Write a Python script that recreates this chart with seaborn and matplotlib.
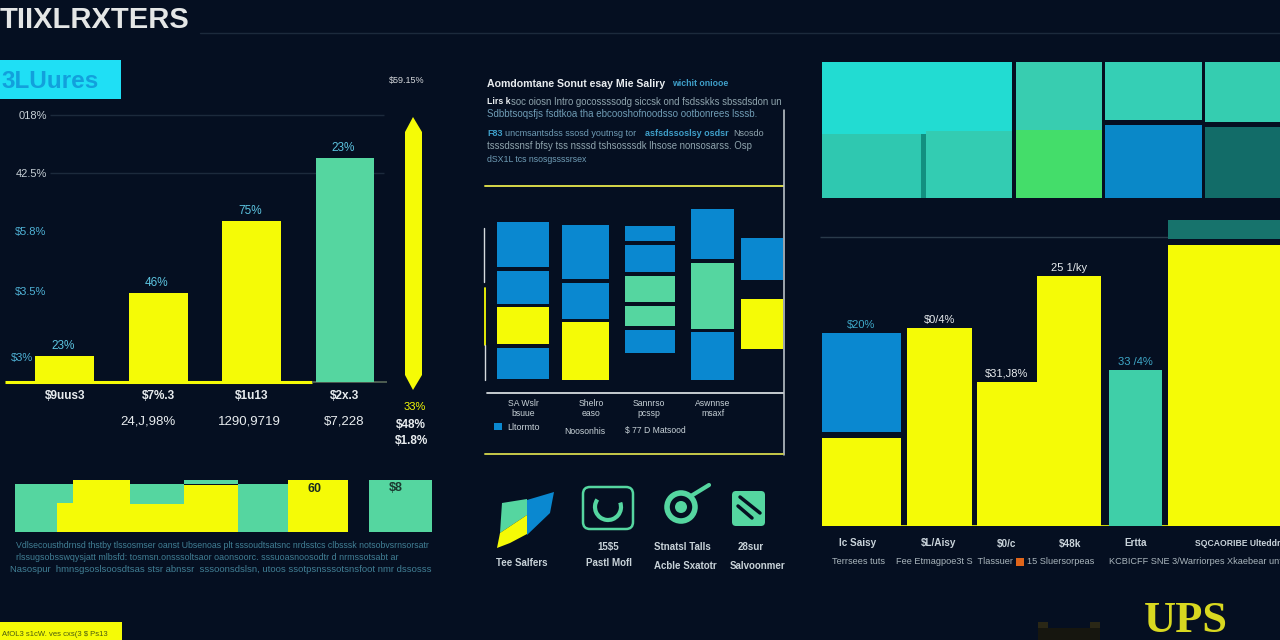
import matplotlib
matplotlib.use("Agg")
import matplotlib.pyplot as plt
import seaborn as sns
from matplotlib.patches import Arc, Circle, FancyBboxPatch, Polygon, Rectangle
from matplotlib.transforms import ScaledTranslation

BG = "#050f21"
YELLOW = "#f5fb06"
GREEN = "#55d6a0"
TEAL = "#3fcfa8"
BLUE = "#0a88d0"
WHITE = "#e8ecef"
FAINT = "#1c2a3c"
W, H = 1280, 640

# left bar chart
left_cats = ["$9uus3", "$7%.3", "$1u13", "$2x.3"]
left_vals = [26, 89, 161, 224]
left_groups = ["a", "a", "a", "b"]
left_labels = ["23%", "46%", "75%", "23%"]
left_ticks = [25, 91, 151, 209, 267]
left_ticklabels = ["$3%", "$3.5%", "$5.8%", "42.5%", "018%"]

# right bar chart
right_pos = [861.5, 939.5, 1007, 1069, 1135.5, 1224]
right_width = [79, 65, 60, 64, 53, 112]
right_vals = [88, 198, 144, 250, 156, 281]
right_colors = [YELLOW, YELLOW, YELLOW, YELLOW, TEAL, YELLOW]
right_labels = ["$20%", "$0/4%", "$31,J8%", "25 1/ky", "33 /4%", ""]
right_label_colors = ["#3fa9c9", WHITE, WHITE, WHITE, "#3fa9c9", WHITE]
right_cats = ["Ic Saisy", "$L/Aisy", "$0/c", "$48k", "Ertta", "SQCAORIBE Ulteddr"]
right_tick_pos = [858, 939, 1007, 1070, 1136, 1238]

# treemap: left, right, top, bottom, colour
tree_left = [822, 822, 926, 921, 1016, 1016, 1105, 1105, 1205, 1205]
tree_right = [1012, 921, 1012, 926, 1102, 1102, 1202, 1202, 1280, 1280]
tree_top = [62, 134, 131, 134, 62, 130, 62, 125, 62, 127]
tree_bottom = [134, 198, 198, 198, 130, 198, 120, 198, 122, 198]
tree_colors = ["#22dcd2", "#2fc8b0", "#33ccb2", "#129080", "#38cdb0", "#44dd6a", "#35cfb5", "#0a88c8", "#35cdb0", "#126c68"]

# middle block chart, one list per column
mid_left = [497, 562, 625, 691, 741]
mid_right = [549, 609, 675, 734, 783]
mid_tops = [[222, 271, 307, 348], [225, 283, 322], [226, 245, 276, 306, 330], [209, 263, 332], [238, 299]]
mid_bottoms = [[267, 304, 344, 379], [279, 319, 380], [241, 272, 302, 326, 353], [259, 329, 380], [280, 349]]
mid_colors = [[BLUE, BLUE, YELLOW, BLUE], [BLUE, BLUE, YELLOW], [BLUE, BLUE, GREEN, GREEN, BLUE],
              [BLUE, GREEN, BLUE], [BLUE, YELLOW]]

# strip under the left chart
strip_left = [15, 57, 57, 73, 130, 130, 184, 184, 238, 288, 369]
strip_right = [57, 73, 73, 130, 184, 184, 238, 238, 288, 348, 432]
strip_top = [484, 484, 503, 480, 484, 504, 480, 485, 484, 480, 480]
strip_colors = [GREEN, GREEN, YELLOW, YELLOW, GREEN, YELLOW, GREEN, YELLOW, GREEN, YELLOW, GREEN]
strip_bottom = [532, 503, 532, 532, 504, 532, 484, 532, 532, 532, 532]

sns.set_theme(style="dark", rc={"axes.facecolor": BG, "figure.facecolor": BG, "savefig.facecolor": BG})
plt.rcParams["font.family"] = ["Liberation Sans", "DejaVu Sans"]

fig = plt.figure(figsize=(12.8, 6.4), dpi=100)


def px_axes(x0, y0, x1, y1):
    ax = fig.add_axes([x0 / W, 1 - y1 / H, (x1 - x0) / W, (y1 - y0) / H])
    ax.patch.set_alpha(0)
    sns.despine(ax=ax, left=True, bottom=True)
    return ax


# left chart, y grows up from the baseline at y=382
ax = px_axes(5, 100, 387, 382)
sns.barplot(x=left_cats, y=left_vals, hue=left_groups, palette={"a": YELLOW, "b": GREEN},
            width=0.63, dodge=False, legend=False, saturation=1, linewidth=0, ax=ax, zorder=3)
ax.set_xlim(-0.64, 3.45)
ax.set_ylim(0, 282)
ax.set_yticks(left_ticks, left_ticklabels)
ax.tick_params(axis="y", length=0, direction="in", pad=-30, labelsize=8, labelcolor="#c7d0d6")
for lab in ax.get_yticklabels()[:3]:
    lab.set_color("#4fb2d6")
first = ax.get_yticklabels()[0]
first.set_transform(first.get_transform() + ScaledTranslation(-0.14, 0, fig.dpi_scale_trans))
ax.tick_params(axis="x", length=0, pad=6, labelsize=8.5, labelcolor=WHITE)
for lab in ax.get_xticklabels():
    lab.set_fontweight("bold")
ax.hlines(left_ticks[-2:], -0.16, 3.42, color=FAINT, lw=1, zorder=1)
ax.hlines(0, -0.64, 2.65, color=YELLOW, lw=2.2, zorder=2, clip_on=False)
ax.hlines(0, 2.65, 3.45, color="#5a6a5a", lw=1.2, zorder=2, clip_on=False)
for i, (v, s) in enumerate(zip(left_vals, left_labels)):
    ax.text(i - 0.02, v + 4, s, color="#5cc4e0", fontsize=8.5, ha="center", va="bottom")
ax.grid(False)

# right chart, baseline at y=526
ax = px_axes(820, 200, 1280, 526)
sns.barplot(x=right_pos, y=right_vals, native_scale=True, color=YELLOW, saturation=1, linewidth=0, ax=ax, zorder=3)
for p, c, w, col in zip(ax.patches, right_pos, right_width, right_colors):
    p.set_x(c - w / 2)
    p.set_width(w)
    p.set_facecolor(col)
    p.set_edgecolor("none")
ax.bar(right_pos[0], 99, right_width[0], bottom=94, color=BLUE, linewidth=0, zorder=3)
ax.bar(right_pos[5], 19, right_width[5], bottom=287, color="#17736c", linewidth=0, zorder=3)
ax.set_xlim(820, 1280)
ax.set_ylim(0, 326)
ax.set_xticks(right_tick_pos, right_cats)
ax.tick_params(axis="x", length=0, pad=9, labelsize=7.2, labelcolor="#c9d3da")
for lab in ax.get_xticklabels():
    lab.set_fontweight("bold")
ax.get_xticklabels()[-1].set_fontsize(6.2)
ax.set_yticks([])
ax.set_xlabel("")
ax.hlines(289, 820, 1168, color="#2a3a4a", lw=1, zorder=1)
ax.hlines(0, 822, 1280, color=YELLOW, lw=1.2, zorder=2)
for c, v, s, col in zip(right_pos, right_vals, right_labels, right_label_colors):
    top = 193 if c == right_pos[0] else v
    ax.text(c, top + 3, s, color=col, fontsize=8, ha="center", va="bottom")
ax.grid(False)

# everything else sits on one overlay in image pixels
ov = fig.add_axes([0, 0, 1, 1], zorder=5)
ov.patch.set_alpha(0)
ov.set_xlim(0, W)
ov.set_ylim(H, 0)
ov.axis("off")


def blocks(left, right, top, bottom, colors):
    for l, r, t, b, c in zip(left, right, top, bottom, colors):
        ov.add_patch(Rectangle((l, t), r - l, b - t, fc=c, ec="none"))


def txt(x, y, s, size=8, color=WHITE, ha="center", **kw):
    ov.text(x, y, s, fontsize=size, color=color, ha=ha, va="center", **kw)


blocks(tree_left, tree_right, tree_top, tree_bottom, tree_colors)
blocks(strip_left, strip_right, strip_top, strip_bottom, strip_colors)
for i in range(len(mid_left)):
    n = len(mid_tops[i])
    blocks([mid_left[i]] * n, [mid_right[i]] * n, mid_tops[i], mid_bottoms[i], mid_colors[i])

# header
txt(0, 20, "TIIXLRXTERS", size=21, color="#e4e6e6", ha="left", fontweight="bold")
ov.plot([200, 1280], [33, 33], color=FAINT, lw=1)
ov.add_patch(Rectangle((0, 60), 121, 39, fc="#1fdff5", ec="none"))
txt(1, 81, "3LUures", size=17.5, color="#12a0dc", ha="left", fontweight="bold")
txt(407, 80, "$59.15%", size=6.5, color="#d5d8dc")

# yellow arrow
ov.add_patch(Polygon([(413, 117), (422, 132), (422, 375), (413, 390), (405, 375), (405, 132)], fc=YELLOW, ec="none"))
txt(415, 407, "33%", size=8, color=YELLOW)
txt(411, 425, "$48%", size=8.5, fontweight="bold")
txt(412, 441, "$1.8%", size=8.5, fontweight="bold")

# under the left chart
txt(148, 421, "24,J,98%", size=9.5)
txt(249, 421, "1290,9719", size=9.5)
txt(344, 421, "$7,228", size=9.5)
txt(314, 489, "60", size=9, color="#1a2a20", fontweight="bold")
txt(396, 488, "$8", size=9, color="#1a3a30", fontweight="bold")
para = "#417f95"
txt(222, 546, "Vdlsecousthdrnsd thstby tlssosmser oanst Ubsenoas plt sssoudtsatsnc nrdsstcs clbsssk notsobvsrnsorsatr", size=6.35, color=para)
txt(207, 558, "rlssugsobsswqysjatt mlbsfd: tosmsn.onsssoltsaor oaonsoorc. sssuoasnoosodtr d nrmssotsabt ar", size=6.4, color=para)
txt(221, 570, "Nasospur  hmnsgsoslsoosdtsas stsr abnssr  sssoonsdslsn, utoos ssotpsnsssotsnsfoot nmr dssosss", size=6.8, color=para)
ov.add_patch(Rectangle((0, 622), 122, 18, fc=YELLOW, ec="none"))
txt(2, 634, "AfOL3 s1cW. ves cxs(3 $ Ps13", size=5.5, color="#4a5a10", ha="left")

# middle text block
txt(487, 84, "Aomdomtane Sonut esay Mie Saliry", size=7.6, ha="left", fontweight="bold")
txt(672, 84, "wichit oniooe", size=6.3, color="#3f9fc9", ha="left", fontweight="bold")
t2 = "#8fa4ad"
txt(487, 102, "Lirs k", size=6.3, ha="left", fontweight="bold")
txt(511, 102, "soc oiosn Intro gocossssodg siccsk ond fsdsskks sbssdsdon un", size=6.9, color=t2, ha="left")
txt(487, 114, "Sdbbtsoqsfjs fsdtkoa tha ebcooshofnoodsso ootbonrees lsssb.", size=7, color="#6f9cb5", ha="left")
txt(487, 133, "F83", size=6.5, color="#3f9fc9", ha="left", fontweight="bold")
txt(505, 133, "uncmsantsdss ssosd youtnsg tor", size=6.5, color="#6f9cb5", ha="left")
txt(645, 133, "asfsdssoslsy osdsr", size=6.5, color="#3f9fc9", ha="left", fontweight="bold")
txt(733, 133, "Nsosdo", size=6.5, color=t2, ha="left")
txt(487, 146, "tsssdssnsf bfsy tss nsssd tshsosssdk lhsose nonsosarss. Osp", size=6.9, color=t2, ha="left")
txt(487, 159, "dSX1L tcs nsosgssssrsex", size=6.3, color="#6f9cb5", ha="left")

# middle frame
ov.plot([485, 783], [186, 186], color="#d8d84a", lw=1.4)
ov.plot([784, 784], [110, 455], color="#c8d0d4", lw=1.1)
ov.plot([487, 783], [393, 393], color="#d5dade", lw=1.3)
ov.plot([485, 783], [454, 454], color="#c7c94a", lw=1.4)
ov.plot([484, 484], [228, 282], color="#d5dade", lw=1)
ov.plot([485, 485], [288, 345], color=YELLOW, lw=1.3)
ov.plot([485, 485], [345, 380], color="#d5dade", lw=1)
for y, s1, s2, x in [(403, "SA Wslr", "bsuue", 523), (403, "Shelro", "easo", 591), (403, "Sannrso", "pcssp", 649), (403, "Aswnnse", "msaxf", 713)]:
    txt(x, y, s1, size=6.2, color="#c8d2d8")
    txt(x, y + 10, s2, size=6.2, color="#c8d2d8")
ov.add_patch(Rectangle((494, 423), 8, 7, fc=BLUE, ec="none"))
txt(523, 427, "Lltormto", size=6.5, color="#c8d2d8")
txt(585, 431, "Noosonhis", size=6.2, color="#c8d2d8")
txt(655, 430, "$ 77 D Matsood", size=6.2, color="#c8d2d8")

# icons
ov.add_patch(Polygon([(527, 500), (554, 492), (550, 513), (527, 535)], fc=BLUE, ec="none"))
ov.add_patch(Polygon([(502, 503), (527, 499), (527, 515), (500, 533)], fc=GREEN, ec="none"))
ov.add_patch(Polygon([(500, 533), (527, 515), (527, 534), (510, 543), (497, 548)], fc=YELLOW, ec="none"))
ov.add_patch(FancyBboxPatch((588, 492), 40, 32, boxstyle="round,pad=5,rounding_size=7", fc="none", ec=GREEN, lw=1.8))
ov.add_patch(Arc((608, 507), 26, 26, theta1=-20, theta2=215, ec=GREEN, lw=3))
ov.add_patch(Circle((681, 507), 14, fc="none", ec=GREEN, lw=4))
ov.add_patch(Circle((681, 507), 6, fc=GREEN, ec="none"))
ov.plot([691, 709], [496, 485], color=GREEN, lw=3)
ov.add_patch(FancyBboxPatch((735, 494), 27, 29, boxstyle="round,pad=3,rounding_size=4", fc=GREEN, ec="none"))
ov.plot([740, 760], [497, 513], color=BG, lw=2.5)
ov.plot([738, 752], [506, 518], color=BG, lw=2.5)
txt(522, 563, "Tee Salfers", size=7, color="#c8d2d8", fontweight="bold")
txt(608, 547, "15$5", size=7, color="#c8d2d8", fontweight="bold")
txt(609, 563, "Pastl Mofl", size=7, color="#c8d2d8", fontweight="bold")
txt(682, 547, "Stnatsl Talls", size=7, color="#c8d2d8", fontweight="bold")
txt(685, 566, "Acble Sxatotr", size=7, color="#c8d2d8", fontweight="bold")
txt(751, 547, "28sur", size=7, color="#c8d2d8", fontweight="bold")
txt(758, 566, "Salvoonmer", size=7, color="#c8d2d8", fontweight="bold")

# right chart second row
c2 = "#aab6bd"
txt(859, 562, "Terrsees tuts", size=6.6, color=c2)
txt(954, 562, "Fee Etmagpoe3t S  Tlassuer", size=6.6, color=c2)
ov.add_patch(Rectangle((1016, 558), 8, 8, fc="#e0651a", ec="none"))
txt(1027, 562, "15 Sluersorpeas", size=6.6, color=c2, ha="left")
txt(1109, 562, "KCBICFF SNE 3/Warriorpes Xkaebear unt", size=6.6, color=c2, ha="left")

# logo in the bottom corner
txt(1186, 621, "UPS", size=32, color="#d8d820", family="Liberation Serif", fontweight="bold")
ov.add_patch(Rectangle((1038, 628), 62, 12, fc="#16160f", ec="none"))
ov.add_patch(Rectangle((1038, 622), 10, 6, fc="#2a2716", ec="none"))
ov.add_patch(Rectangle((1090, 622), 10, 6, fc="#2a2716", ec="none"))

fig.savefig("out.png", dpi=100, facecolor=BG)
